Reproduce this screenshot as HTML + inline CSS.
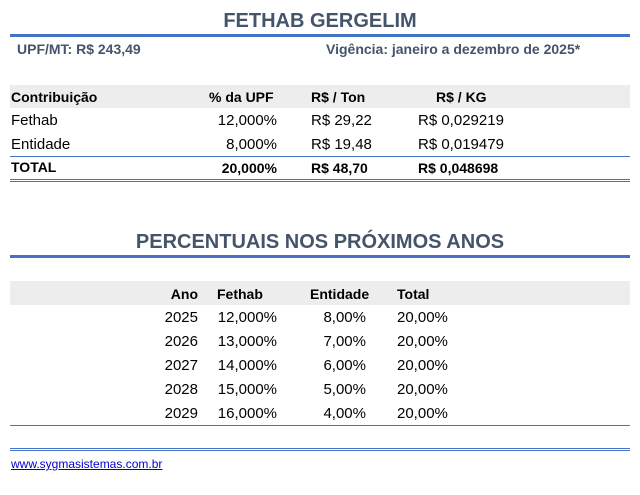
<!DOCTYPE html>
<html><head><meta charset="utf-8"><style>
body{margin:0;width:640px;height:495px;background:#fff;position:relative;overflow:hidden;font-family:"Liberation Sans",sans-serif;font-size:15px;color:#000}
div{position:absolute;white-space:nowrap}
.t{font-weight:bold;color:#44546A;font-size:20px;width:640px;text-align:center;left:0}
.b{font-weight:bold;font-size:14px}
.r{text-align:right}
.band{background:#EDEDED;left:10px;width:620px}
.ln{background:#4472C4;left:10px;width:620px}
</style></head><body>
<div class="t" style="top:10px">FETHAB GERGELIM</div>
<div class="ln" style="top:34px;height:3px"></div>
<div class="b" style="left:17px;top:41px;color:#44546A">UPF/MT: R$ 243,49</div>
<div class="b" style="left:326px;top:41px;color:#44546A">Vigência: janeiro a dezembro de 2025*</div>
<div class="band" style="top:85px;height:23px"></div>
<div class="b" style="left:11px;top:89px">Contribuição</div>
<div class="b" style="left:209px;top:89px">% da UPF</div>
<div class="b" style="left:311px;top:89px">R$ / Ton</div>
<div class="b" style="left:436px;top:89px">R$ / KG</div>
<div style="left:11px;top:112px">Fethab</div>
<div class="r" style="left:180px;width:97px;top:112px">12,000%</div>
<div style="left:311px;top:112px">R$ 29,22</div>
<div style="left:418px;top:112px">R$ 0,029219</div>
<div style="left:11px;top:136px">Entidade</div>
<div class="r" style="left:180px;width:97px;top:136px">8,000%</div>
<div style="left:311px;top:136px">R$ 19,48</div>
<div style="left:418px;top:136px">R$ 0,019479</div>
<div class="ln" style="top:156px;height:1px"></div>
<div class="b" style="left:11px;top:159px">TOTAL</div>
<div class="b r" style="left:180px;width:97px;top:160px">20,000%</div>
<div class="b" style="left:311px;top:160px">R$ 48,70</div>
<div class="b" style="left:418px;top:160px">R$ 0,048698</div>
<div class="ln" style="top:179px;height:1px"></div>
<div class="ln" style="top:181px;height:1px"></div>

<div class="t" style="top:231px">PERCENTUAIS NOS PRÓXIMOS ANOS</div>
<div class="ln" style="top:255px;height:3px"></div>
<div class="band" style="top:281px;height:24px"></div>
<div class="b r" style="left:150px;width:48px;top:286px">Ano</div>
<div class="b" style="left:217px;top:286px">Fethab</div>
<div class="b" style="left:310px;top:286px">Entidade</div>
<div class="b" style="left:397px;top:286px">Total</div>
<div class="r" style="left:150px;width:48px;top:309px">2025</div><div class="r" style="left:200px;width:77px;top:309px">12,000%</div><div class="r" style="left:300px;width:66px;top:309px">8,00%</div><div style="left:397px;top:309px">20,00%</div>
<div class="r" style="left:150px;width:48px;top:333px">2026</div><div class="r" style="left:200px;width:77px;top:333px">13,000%</div><div class="r" style="left:300px;width:66px;top:333px">7,00%</div><div style="left:397px;top:333px">20,00%</div>
<div class="r" style="left:150px;width:48px;top:357px">2027</div><div class="r" style="left:200px;width:77px;top:357px">14,000%</div><div class="r" style="left:300px;width:66px;top:357px">6,00%</div><div style="left:397px;top:357px">20,00%</div>
<div class="r" style="left:150px;width:48px;top:381px">2028</div><div class="r" style="left:200px;width:77px;top:381px">15,000%</div><div class="r" style="left:300px;width:66px;top:381px">5,00%</div><div style="left:397px;top:381px">20,00%</div>
<div class="r" style="left:150px;width:48px;top:405px">2029</div><div class="r" style="left:200px;width:77px;top:405px">16,000%</div><div class="r" style="left:300px;width:66px;top:405px">4,00%</div><div style="left:397px;top:405px">20,00%</div>
<div class="ln" style="top:425px;height:1px"></div>
<div class="ln" style="top:448px;height:1px"></div>
<div class="ln" style="top:450px;height:1px"></div>
<div style="left:11px;top:457px;font-size:12px;color:#0000CC;text-decoration:underline">www.sygmasistemas.com.br</div>
</body></html>
